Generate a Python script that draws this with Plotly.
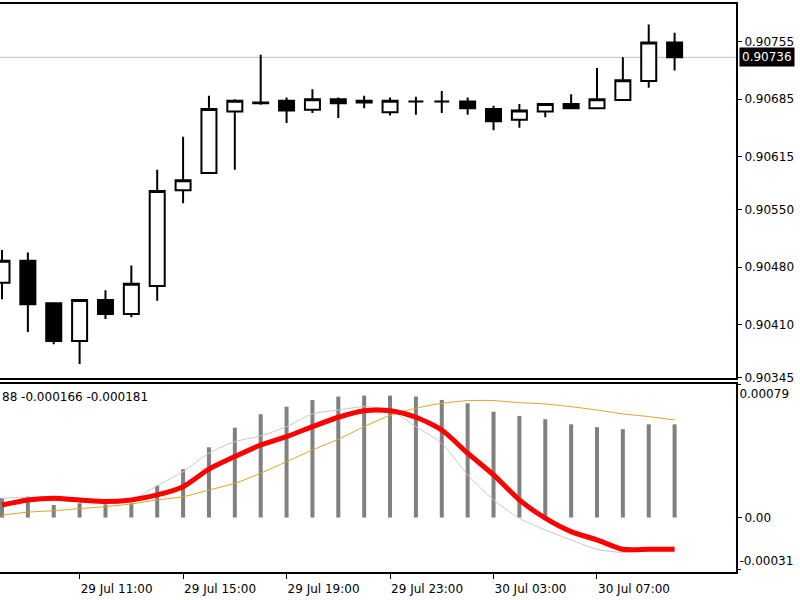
import plotly.graph_objects as go

# ---- data ----
times = [
    "2024-07-29 08:00", "2024-07-29 09:00", "2024-07-29 10:00", "2024-07-29 11:00",
    "2024-07-29 12:00", "2024-07-29 13:00", "2024-07-29 14:00", "2024-07-29 15:00",
    "2024-07-29 16:00", "2024-07-29 17:00", "2024-07-29 18:00", "2024-07-29 19:00",
    "2024-07-29 20:00", "2024-07-29 21:00", "2024-07-29 22:00", "2024-07-29 23:00",
    "2024-07-30 00:00", "2024-07-30 01:00", "2024-07-30 02:00", "2024-07-30 03:00",
    "2024-07-30 04:00", "2024-07-30 05:00", "2024-07-30 06:00", "2024-07-30 07:00",
    "2024-07-30 08:00", "2024-07-30 09:00", "2024-07-30 10:00",
]
open_ = [0.90461, 0.90488, 0.90436, 0.90390, 0.90440, 0.90423, 0.90457, 0.90574, 0.90595,
         0.90670, 0.90681, 0.90683, 0.90672, 0.90685, 0.90683, 0.90669, 0.90682, 0.90682,
         0.90682, 0.90673, 0.90660, 0.90670, 0.90679, 0.90674, 0.90684, 0.90707, 0.90754]
high = [0.90501, 0.90498, 0.90437, 0.90440, 0.90452, 0.90482, 0.90599, 0.90639, 0.90689,
        0.90685, 0.90739, 0.90687, 0.90697, 0.90687, 0.90689, 0.90687, 0.90688, 0.90695,
        0.90687, 0.90677, 0.90679, 0.90680, 0.90691, 0.90723, 0.90736, 0.90776, 0.90766]
low = [0.90441, 0.90401, 0.90386, 0.90362, 0.90417, 0.90419, 0.90439, 0.90558, 0.90595,
       0.90599, 0.90678, 0.90656, 0.90668, 0.90662, 0.90674, 0.90665, 0.90666, 0.90668,
       0.90666, 0.90647, 0.90650, 0.90663, 0.90674, 0.90674, 0.90684, 0.90699, 0.90720]
close = [0.90488, 0.90435, 0.90390, 0.90440, 0.90423, 0.90460, 0.90573, 0.90586, 0.90673,
         0.90683, 0.90680, 0.90671, 0.90685, 0.90680, 0.90681, 0.90683, 0.90682, 0.90682,
         0.90674, 0.90658, 0.90671, 0.90679, 0.90674, 0.90685, 0.90708, 0.90754, 0.90736]
last_price = 0.90736

hist = [11.5, 12.4, 7.5, 8.5, 7.9, 8.5, 19.0, 28.8, 41.8, 53.5, 61.5, 66.0, 70.0, 72.0,
        72.6, 72.6, 72.0, 70.0, 68.0, 63.0, 60.5, 58.5, 55.5, 53.8, 52.6, 55.5, 55.5]
red_line = [7.5, 10.5, 11.5, 10.5, 9.5, 10.5, 13.5, 18.4, 28.8, 36.3, 43.2, 48.2, 54.1, 59.7,
            63.6, 63.6, 59.7, 52.1, 38.3, 25.4, 10.5, -0.4, -8.4, -13.3, -18.9, -18.9, -18.9]
silver_line = [11.5, 12.1, 10.5, 9.3, 9.3, 10.5, 19.0, 27.3, 38.3, 45.2, 48.6, 54.1, 61.7, 64.0,
               66.0, 64.0, 54.1, 44.2, 25.4, 10.5, -0.4, -7.4, -13.3, -18.9, -20.7, -19.3, -18.7]
gold_line = [1.5, 3.2, 4.1, 5.3, 6.5, 8.1, 10.5, 12.4, 16.4, 20.4, 26.4, 33.3, 40.2, 46.6,
             54.1, 60.8, 65.1, 68.0, 69.6, 69.6, 68.4, 67.6, 66.0, 64.0, 61.7, 60.1, 58.1]
scale = 1e-5
hist = [v * scale for v in hist]
red_line = [v * scale for v in red_line]
silver_line = [v * scale for v in silver_line]
gold_line = [v * scale for v in gold_line]

price_ticks = [0.90755, 0.90685, 0.90615, 0.90550, 0.90480, 0.90410, 0.90345]
price_ticktext = ["0.90755", "0.90685", "0.90615", "0.90550", "0.90480", "0.90410", "0.90345"]
time_ticks = ["2024-07-29 07:00", "2024-07-29 11:00", "2024-07-29 15:00", "2024-07-29 19:00",
              "2024-07-29 23:00", "2024-07-30 03:00", "2024-07-30 07:00"]
osc_label = "88 -0.000166 -0.000181"

x_range = ["2024-07-29 07:55:22", "2024-07-30 12:22:24"]
price_range = [0.903449, 0.908010]
osc_range = [-0.000324, 0.000795]

FONT = "DejaVu Sans"

fig = go.Figure()
fig.add_trace(go.Candlestick(
    x=times, open=open_, high=high, low=low, close=close,
    xaxis="x", yaxis="y", whiskerwidth=0,
    increasing=dict(line=dict(color="black", width=2), fillcolor="white"),
    decreasing=dict(line=dict(color="black", width=2), fillcolor="black"),
    showlegend=False,
))
fig.add_trace(go.Bar(x=times, y=hist, xaxis="x2", yaxis="y2", width=0.155 * 3600000,
                     marker=dict(color="#808080", line=dict(width=0)), showlegend=False))
fig.add_trace(go.Scatter(x=times, y=gold_line, xaxis="x2", yaxis="y2", mode="lines",
                         line=dict(color="#DAA520", width=1, shape="spline", smoothing=0.7),
                         showlegend=False))
fig.add_trace(go.Scatter(x=times, y=silver_line, xaxis="x2", yaxis="y2", mode="lines",
                         line=dict(color="#C8C8C8", width=1, shape="spline", smoothing=0.7),
                         showlegend=False))
fig.add_trace(go.Scatter(x=times, y=red_line, xaxis="x2", yaxis="y2", mode="lines",
                         line=dict(color="#FF0000", width=5, shape="spline", smoothing=0.7),
                         showlegend=False))
# dummy traces so overlay axes are drawn
fig.add_trace(go.Scatter(x=[times[0]], y=[0], xaxis="x2", yaxis="y3", mode="markers",
                         marker=dict(opacity=0), showlegend=False, hoverinfo="skip"))
fig.add_trace(go.Scatter(x=[times[0]], y=[0], xaxis="x2", yaxis="y4", mode="markers",
                         marker=dict(opacity=0), showlegend=False, hoverinfo="skip"))

axis_common = dict(showgrid=False, zeroline=False, linecolor="black", linewidth=2)

fig.update_layout(
    width=800, height=600,
    margin=dict(l=0, r=64, t=4, b=28),
    paper_bgcolor="white", plot_bgcolor="white",
    font=dict(family=FONT, size=12, color="black"),
    showlegend=False,
    boxgap=0.42, boxgroupgap=0,
    xaxis=dict(domain=[0, 1], anchor="y", type="date", range=x_range,
               rangeslider=dict(visible=False), showticklabels=False, ticks="",
               showline=True, mirror=True, **axis_common),
    yaxis=dict(domain=[0.3415, 1], anchor="x", side="right", range=price_range,
               tickvals=price_ticks, ticktext=price_ticktext, ticks="outside",
               ticklen=4, tickcolor="black", showline=True, **axis_common),
    xaxis2=dict(domain=[0, 1], anchor="y2", type="date", range=x_range,
                tickvals=time_ticks, tickformat="%d %b %H:%M",
                ticks="outside", ticklen=5, tickcolor="black", ticklabelshift=37,
                showline=True, mirror=True, **axis_common),
    yaxis2=dict(domain=[0, 0.331], anchor="x2", side="right", range=osc_range,
                tickvals=[0], ticktext=["0.00"], ticks="outside", ticklen=4,
                tickcolor="black", showline=True, **axis_common),
    yaxis3=dict(overlaying="y2", anchor="x2", side="right", range=osc_range,
                tickvals=[0.00079], ticktext=["0.00079"], ticks="outside", ticklen=4,
                tickcolor="black", ticklabelposition="outside bottom",
                showline=False, showgrid=False, zeroline=False),
    yaxis4=dict(overlaying="y2", anchor="x2", side="right", range=osc_range,
                tickvals=[-0.00031], ticktext=["-0.00031"], ticks="outside", ticklen=4,
                tickcolor="black", ticklabelposition="outside top",
                showline=False, showgrid=False, zeroline=False),
    shapes=[dict(type="line", xref="x", yref="y", x0=x_range[0], x1=x_range[1],
                 y0=last_price, y1=last_price, layer="below",
                 line=dict(color="#C0C0C0", width=1))],
    annotations=[
        dict(xref="paper", yref="y", x=1, y=last_price, xanchor="left", yanchor="middle",
             xshift=3, text=f"{last_price:.5f}", showarrow=False, bgcolor="black",
             borderpad=2, font=dict(color="white", family=FONT, size=12)),
        dict(xref="paper", yref="paper", x=0, y=0.331, xanchor="left", yanchor="top",
             yshift=-4, text=osc_label, showarrow=False,
             font=dict(color="black", family=FONT, size=12)),
    ],
)

fig.write_html("out.html")
